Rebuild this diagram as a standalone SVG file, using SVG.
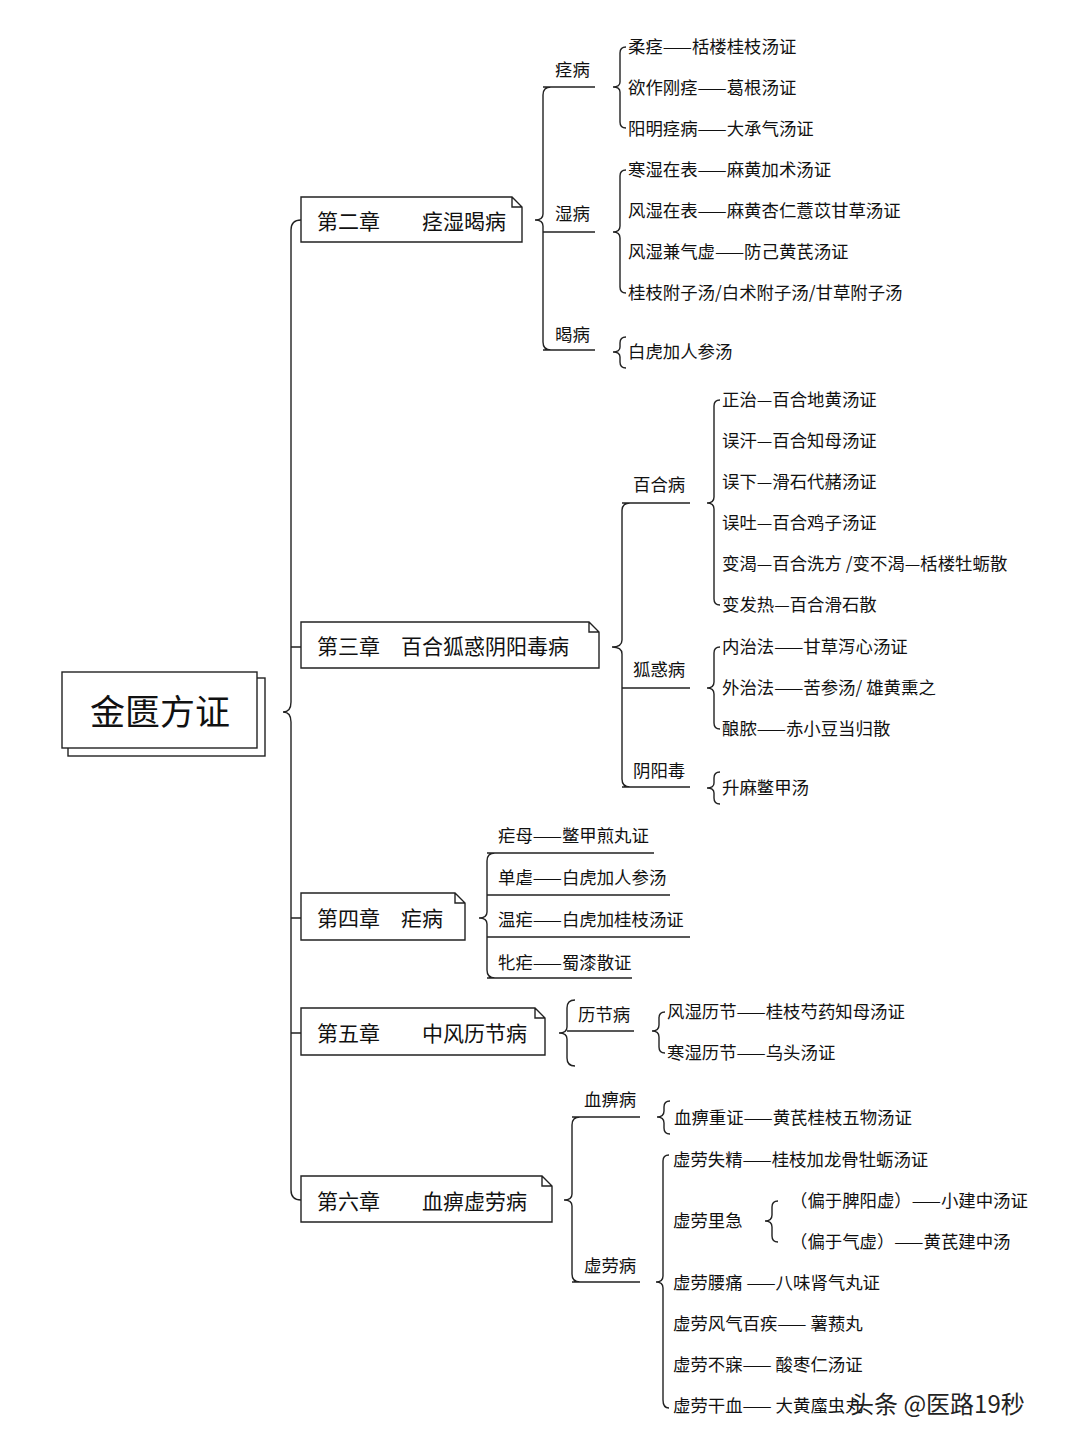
<svg xmlns="http://www.w3.org/2000/svg" width="1080" height="1439" viewBox="0 0 1080 1439">
<style>
text{font-family:"Noto Sans CJK SC","Noto Sans",sans-serif;fill:#111}
.l{font-size:17.4px}
.c{font-size:21px}
.ln{fill:none;stroke:#222;stroke-width:1.4}
.bx{fill:#fff;stroke:#222;stroke-width:1.4}
</style>
<rect width="1080" height="1439" fill="#fff"/>
<g id="connectors">
<path class="ln" d="M301,220 q-10,0 -10,10 V702 q0,10 -8,10 q8,0 8,10 V1190 q0,10 10,10 M291,647 H301 M291,918 H301 M291,1033 H301"/>
<path class="ln" d="M551,87 q-8,0 -8,8 V214 q0,6 -8,6 q8,0 8,6 V342 q0,8 8,8 M543,232 H595 M543,87 H595 M543,350 H595"/>
<path class="ln" d="M626,47 q-6,0 -6,6 V82 q0,5 -7,5 q7,0 7,5 V122 q0,6 6,6"/>
<path class="ln" d="M626,170 q-6,0 -6,6 V226 q0,6 -7,6 q7,0 7,6 V287 q0,6 6,6"/>
<path class="ln" d="M626,337 q-6,0 -6,6 V347 q0,5 -7,5 q7,0 7,5 V362 q0,6 6,6"/>
<path class="ln" d="M630,503 q-8,0 -8,8 V640 q0,7 -10,7 q10,0 10,7 V779 q0,8 8,8 M622,688 H690 M622,503 H690 M622,787 H690"/>
<path class="ln" d="M720,400 q-6,0 -6,6 V497 q0,6 -7,6 q7,0 7,6 V599 q0,6 6,6"/>
<path class="ln" d="M720,647 q-6,0 -6,6 V682 q0,6 -7,6 q7,0 7,6 V723 q0,6 6,6"/>
<path class="ln" d="M720,772 q-6,0 -6,6 V783 q0,5 -7,5 q7,0 7,5 V798 q0,6 6,6"/>
<path class="ln" d="M495,853 q-8,0 -8,8 V912 q0,6 -8,6 q8,0 8,6 V970 q0,8 8,8 M487,853 H654 M487,895 H670 M487,937 H690 M487,978 H632"/>
<path class="ln" d="M575,1000 q-8,0 -8,8 V1027 q0,6 -8,6 q8,0 8,6 V1058 q0,8 8,8 M567,1031 H634"/>
<path class="ln" d="M665,1012 q-6,0 -6,6 V1025 q0,6 -7,6 q7,0 7,6 V1047 q0,6 6,6"/>
<path class="ln" d="M580,1117 q-8,0 -8,8 V1194 q0,6 -8,6 q8,0 8,6 V1274 q0,8 8,8 M572,1117 H640 M572,1282 H640"/>
<path class="ln" d="M670,1101 q-6,0 -6,6 V1111 q0,6 -7,6 q7,0 7,6 V1128 q0,6 6,6"/>
<path class="ln" d="M669,1155 q-6,0 -6,6 V1276 q0,6 -7,6 q7,0 7,6 V1400 q0,8 6,8"/>
<path class="ln" d="M778,1201 q-6,0 -6,6 V1215 q0,6 -7,6 q7,0 7,6 V1236 q0,6 6,6"/>
</g>
<g id="root">
<rect class="bx" x="68" y="678" width="197" height="78"/>
<rect class="bx" x="62" y="672" width="195" height="76"/>
<text x="160" y="725" font-size="35" text-anchor="middle">金匮方证</text>
</g>
<g id="ch2"><path class="bx" d="M301,197 H512 L522,207 V242 H301 Z M512,197 V207 H522"/><text class="c" x="317" y="229">第二章　　痉湿暍病</text></g>
<g id="ch3"><path class="bx" d="M301,622 H589 L599,632 V668 H301 Z M589,622 V632 H599"/><text class="c" x="317" y="654">第三章　百合狐惑阴阳毒病</text></g>
<g id="ch4"><path class="bx" d="M301,893 H455 L465,903 V940 H301 Z M455,893 V903 H465"/><text class="c" x="317" y="926">第四章　疟病</text></g>
<g id="ch5"><path class="bx" d="M301,1008 H535 L545,1018 V1055 H301 Z M535,1008 V1018 H545"/><text class="c" x="317" y="1041">第五章　　中风历节病</text></g>
<g id="ch6"><path class="bx" d="M301,1176 H542 L552,1186 V1222 H301 Z M542,1176 V1186 H552"/><text class="c" x="317" y="1209">第六章　　血痹虚劳病</text></g>
<g id="ch2-sub" class="l">
<text x="555" y="76">痉病</text><text x="555" y="220">湿病</text><text x="555" y="341">暍病</text>
<text x="628" y="53">柔痉——栝楼桂枝汤证</text>
<text x="628" y="94">欲作刚痉——葛根汤证</text>
<text x="628" y="135">阳明痉病——大承气汤证</text>
<text x="628" y="176">寒湿在表——麻黄加术汤证</text>
<text x="628" y="217">风湿在表——麻黄杏仁薏苡甘草汤证</text>
<text x="628" y="258">风湿兼气虚——防己黄芪汤证</text>
<text x="628" y="299">桂枝附子汤/白术附子汤/甘草附子汤</text>
<text x="628" y="358">白虎加人参汤</text>
</g>
<g id="ch3-sub" class="l">
<text x="633" y="491">百合病</text><text x="633" y="676">狐惑病</text><text x="633" y="777">阴阳毒</text>
<text x="722" y="406">正治—百合地黄汤证</text>
<text x="722" y="447">误汗—百合知母汤证</text>
<text x="722" y="488">误下—滑石代赭汤证</text>
<text x="722" y="529">误吐—百合鸡子汤证</text>
<text x="722" y="570">变渴—百合洗方 /变不渴—栝楼牡蛎散</text>
<text x="722" y="611">变发热—百合滑石散</text>
<text x="722" y="653">内治法——甘草泻心汤证</text>
<text x="722" y="694">外治法——苦参汤/ 雄黄熏之</text>
<text x="722" y="735">酿脓——赤小豆当归散</text>
<text x="722" y="794">升麻鳖甲汤</text>
</g>
<g id="ch4-sub" class="l">
<text x="498" y="842">疟母——鳖甲煎丸证</text>
<text x="498" y="884">单虐——白虎加人参汤</text>
<text x="498" y="926">温疟——白虎加桂枝汤证</text>
<text x="498" y="969">牝疟——蜀漆散证</text>
</g>
<g id="ch5-sub" class="l">
<text x="578" y="1021">历节病</text>
<text x="667" y="1018">风湿历节——桂枝芍药知母汤证</text>
<text x="667" y="1059">寒湿历节——乌头汤证</text>
</g>
<g id="ch6-sub" class="l">
<text x="584" y="1106">血痹病</text><text x="584" y="1272">虚劳病</text>
<text x="674" y="1124">血痹重证——黄芪桂枝五物汤证</text>
<text x="673" y="1166">虚劳失精——桂枝加龙骨牡蛎汤证</text>
<text x="673" y="1227">虚劳里急</text>
<text x="790" y="1207">（偏于脾阳虚）——小建中汤证</text>
<text x="790" y="1248">（偏于气虚）——黄芪建中汤</text>
<text x="673" y="1289">虚劳腰痛 ——八味肾气丸证</text>
<text x="673" y="1330">虚劳风气百疾—— 薯蓣丸</text>
<text x="673" y="1371">虚劳不寐—— 酸枣仁汤证</text>
<text x="673" y="1412">虚劳干血—— 大黄䗪虫丸</text>
</g>
<text x="850" y="1413" font-size="24" style="fill:#222">头条 @医路19秒</text>
</svg>
